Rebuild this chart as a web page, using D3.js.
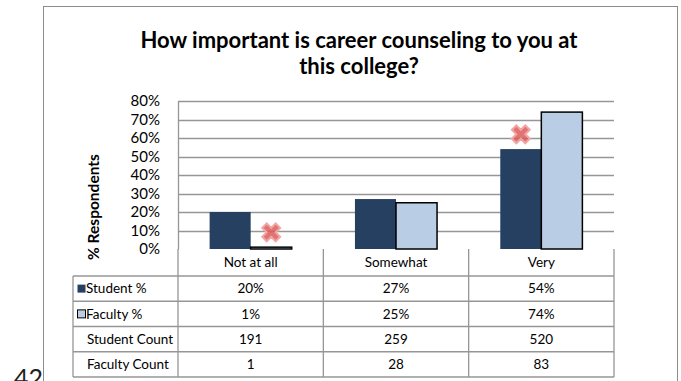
<!DOCTYPE html>
<html>
<head>
<meta charset="utf-8">
<script src="https://cdn.jsdelivr.net/npm/d3@7"></script>
<style>
  body { margin: 0; background: #fff; }
  svg { display: block; font-family: Lato, "Open Sans", sans-serif; }
</style>
</head>
<body>
<div id="chart"></div>
<script>
// chart data
var categories = ["Not at all", "Somewhat", "Very"];
var seriesNames = ["Student %", "Faculty %"];
var studentPct = [0.20, 0.27, 0.54];
var facultyPct = [0.01, 0.25, 0.74];
var studentCount = [191, 259, 520];
var facultyCount = [1, 28, 83];
var yTicks = [0, 0.1, 0.2, 0.3, 0.4, 0.5, 0.6, 0.7, 0.8];
// red "x" flags: category, series index, height
var flags = [
    { category: "Not at all", series: 1, value: 0.09 },
    { category: "Very", series: 0, value: 0.62 }
];
var pageNumber = "42";

var colors = ["#254061", "#b9cde5"];

var W = 681, H = 381;
var plot = { left: 178, right: 614, top: 101, bottom: 249 };

var svg = d3.select("#chart").append("svg")
    .attr("width", W)
    .attr("height", H);

// outer frame (bottom edge is off the page)
svg.append("rect")
    .attr("x", 43.5)
    .attr("y", 6.5)
    .attr("width", 634)
    .attr("height", 400)
    .attr("fill", "#fff")
    .attr("stroke", "#8c8c8c")
    .attr("stroke-width", 1);

// page number, cut off at bottom like the scan
svg.append("text")
    .attr("x", 14)
    .attr("y", 387)
    .style("font-size", "25px")
    .style("fill", "#222")
    .text(pageNumber);

// title
var title = svg.append("text")
    .attr("text-anchor", "middle")
    .style("font-size", "22px")
    .style("font-weight", "bold")
    .style("fill", "#000");
title.append("tspan").attr("x", 359).attr("y", 48).text("How important is career counseling to you at");
title.append("tspan").attr("x", 359).attr("y", 74).text("this college?");

// scales
var x = d3.scaleBand()
    .domain(categories)
    .range([plot.left, plot.right])
    .padding(0);
var xs = d3.scaleBand()
    .domain([0, 1])
    .range([0, x.bandwidth()])
    .paddingInner(0)
    .paddingOuter(0.77);
var y = d3.scaleLinear()
    .domain([0, 0.8])
    .range([plot.bottom, plot.top]);

// gridlines
svg.append("g")
    .selectAll("line")
    .data(yTicks.slice(1))
    .enter()
    .append("line")
    .attr("x1", plot.left)
    .attr("x2", plot.right)
    .attr("y1", function(d) { return Math.round(y(d)) + 0.5; })
    .attr("y2", function(d) { return Math.round(y(d)) + 0.5; })
    .attr("stroke", "#969696")
    .attr("stroke-width", 1.3);

// y axis
var yaxis = svg.append("g")
    .attr("transform", "translate(" + plot.left + ",0)")
    .call(d3.axisLeft(y).tickValues(yTicks).tickFormat(d3.format(".0%")).tickSize(0).tickPadding(18));
yaxis.select(".domain").attr("stroke", "#969696").attr("stroke-width", 1.3);
yaxis.selectAll("text")
    .style("font-family", "Lato, sans-serif")
    .style("font-size", "15px")
    .attr("fill", "#000");

// y axis title
svg.append("text")
    .attr("transform", "translate(99,207) rotate(-90)")
    .attr("text-anchor", "middle")
    .style("font-size", "15.5px")
    .style("font-weight", "bold")
    .text("% Respondents");

// bars
var barData = [];
for (var i = 0; i < categories.length; i++) {
    barData.push({ category: categories[i], series: 0, value: studentPct[i] });
    barData.push({ category: categories[i], series: 1, value: facultyPct[i] });
}
svg.append("g")
    .selectAll("rect")
    .data(barData)
    .enter()
    .append("rect")
    .attr("x", function(d) { return x(d.category) + xs(d.series); })
    .attr("y", function(d) { return y(d.value); })
    .attr("width", xs.bandwidth())
    .attr("height", function(d) { return plot.bottom - y(d.value); })
    .attr("fill", function(d) { return colors[d.series]; })
    .attr("stroke", function(d) { return d.series == 1 ? "#000" : "none"; })
    .attr("stroke-width", 1.5);

// red x flags
svg.append("g")
    .selectAll("path")
    .data(flags)
    .enter()
    .append("path")
    .attr("d", d3.symbol().type(d3.symbolCross).size(200))
    .attr("transform", function(d) {
        var cx = x(d.category) + xs(d.series) + xs.bandwidth() / 2;
        return "translate(" + cx + "," + y(d.value) + ") rotate(45)";
    })
    .attr("fill", "#dd5a5a")
    .attr("fill-opacity", 0.85)
    .attr("stroke", "#f2a5a5")
    .attr("stroke-width", 2);

// data table
var rowLabels = ["Student %", "Faculty %", "Student Count", "Faculty Count"];
var rowValues = [
    studentPct.map(d3.format(".0%")),
    facultyPct.map(d3.format(".0%")),
    studentCount,
    facultyCount
];
var headerBottom = 276;
var rowH = 25.25;
var labelLeft = 73;
var tableBottom = headerBottom + rowH * rowLabels.length;
var lineColor = "#969696";
var tableFont = "13.5px";

var table = svg.append("g")
    .attr("stroke", lineColor)
    .attr("stroke-width", 1.3);
// vertical lines
categories.forEach(function(c, i) {
    table.append("line")
        .attr("x1", x(c)).attr("x2", x(c))
        .attr("y1", plot.bottom).attr("y2", tableBottom);
});
table.append("line")
    .attr("x1", plot.right).attr("x2", plot.right)
    .attr("y1", plot.bottom).attr("y2", tableBottom);
table.append("line")
    .attr("x1", labelLeft).attr("x2", labelLeft)
    .attr("y1", headerBottom).attr("y2", tableBottom);
// horizontal lines
for (var r = 0; r <= rowLabels.length; r++) {
    table.append("line")
        .attr("x1", labelLeft).attr("x2", plot.right)
        .attr("y1", headerBottom + r * rowH).attr("y2", headerBottom + r * rowH);
}

// category headers
svg.append("g")
    .selectAll("text")
    .data(categories)
    .enter()
    .append("text")
    .attr("x", function(d) { return x(d) + x.bandwidth() / 2; })
    .attr("y", (plot.bottom + headerBottom) / 2)
    .attr("dy", "0.35em")
    .attr("text-anchor", "middle")
    .style("font-size", tableFont)
    .text(function(d) { return d; });

// row labels with legend keys
rowLabels.forEach(function(label, r) {
    var cy = headerBottom + r * rowH + rowH / 2;
    if (r < 2) {
        svg.append("rect")
            .attr("x", 77.5)
            .attr("y", cy - 4)
            .attr("width", 8)
            .attr("height", 8)
            .attr("fill", colors[r])
            .attr("stroke", r == 1 ? "#000" : "none")
            .attr("stroke-width", 1);
    }
    svg.append("text")
        .attr("x", r < 2 ? 86 : 87)
        .attr("y", cy)
        .attr("dy", "0.35em")
        .style("font-size", tableFont)
        .text(label);
    rowValues[r].forEach(function(v, i) {
        svg.append("text")
            .attr("x", x(categories[i]) + x.bandwidth() / 2)
            .attr("y", cy)
            .attr("dy", "0.35em")
            .attr("text-anchor", "middle")
            .style("font-size", tableFont)
            .text(v);
    });
});
</script>
</body>
</html>
